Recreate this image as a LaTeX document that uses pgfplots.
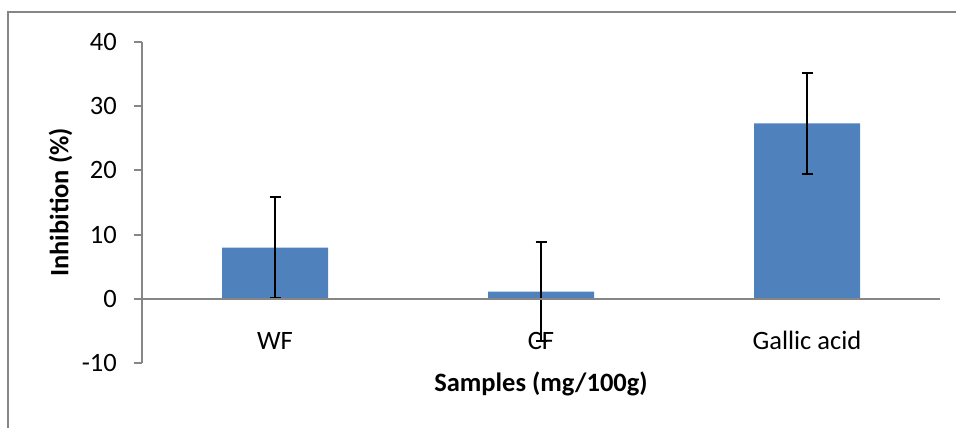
\documentclass[border=0pt]{standalone}
\usepackage{fontspec}
\setmainfont{Carlito}
\usepackage{pgfplots}
\pgfplotsset{compat=1.18}
\definecolor{barblue}{HTML}{4F81BD}
\definecolor{axgray}{HTML}{868686}
\begin{document}
\begin{tikzpicture}
\useasboundingbox (0pt,0pt) rectangle (956pt,428pt);
\draw[axgray, line width=2pt] (8pt,0pt) -- (8pt,416pt) -- (956pt,416pt);
\begin{axis}[
  at={(142pt,64.7pt)}, anchor=south west,
  scale only axis, width=798pt, height=321.6pt,
  xmin=-0.5, xmax=2.5, ymin=-10, ymax=40,
  axis lines=left,
  axis line style={axgray, line width=2pt, -},
  x axis line style={draw=none},
  xtick={0,1,2}, xticklabels={WF, CF, Gallic acid},
  ytick={-10,0,10,20,30,40},
  tick align=outside,
  major tick length=8pt,
  ytick style={axgray, line width=2pt},
  xtick style={draw=none},
  /pgf/number format/assume math mode=true,
  tick label style={font=\fontsize{26.5}{31}\selectfont, inner sep=0pt},
  yticklabel style={anchor=east, xshift=-17pt},
  xticklabel style={anchor=base, yshift=21.6pt},
  xlabel={\bfseries Samples (mg/100g)},
  ylabel={\bfseries Inhibition (\%)},
  label style={font=\fontsize{26.5}{31}\selectfont, inner sep=0pt},
  xlabel style={at={(axis description cs:0.5,-0.0883)}, anchor=base},
  ylabel style={at={(axis description cs:-0.0924,0.5)}, anchor=base, rotate=0},
  clip=false,
]
\addplot[ybar, bar width=106pt, fill=barblue, draw=none,
  error bars/.cd, y dir=both, y explicit,
  error bar style={black, line width=2pt},
  error mark options={black, line width=2pt, mark size=5.5pt, rotate=90}]
  coordinates {(0,8.0) +- (0,7.9) (1,1.15) +- (0,7.72) (2,27.3) +- (0,7.9)};
\draw[axgray, line width=2pt] (axis cs:-0.5,0) -- (axis cs:2.5,0);
\end{axis}
\end{tikzpicture}
\end{document}
